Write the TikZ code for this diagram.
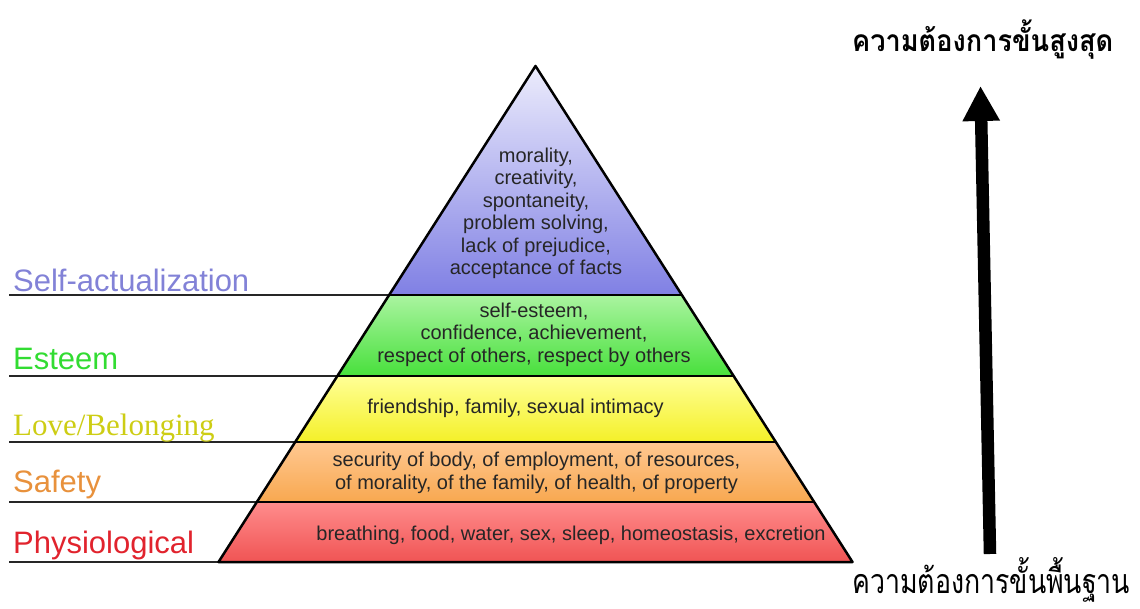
\documentclass[tikz,border=0pt]{standalone}
\usepackage{fontspec}
\usepackage{graphicx}
\setmainfont{Liberation Sans}
\newfontfamily\labsans{Liberation Sans}
\newfontfamily\labserif{Liberation Serif}
\newfontfamily\thaifont[Script=Thai]{Loma}
\usetikzlibrary{arrows.meta}
\definecolor{labBlue}{RGB}{130,130,215}
\definecolor{labGreen}{RGB}{50,220,50}
\definecolor{labYellow}{RGB}{205,205,20}
\definecolor{labOrange}{RGB}{232,145,60}
\definecolor{labRed}{RGB}{225,35,45}
\tikzset{
  lvlname/.style={anchor=base west, inner sep=0pt, font=\labsans\fontsize{31}{31}\selectfont},
  lvltext/.style={align=center, inner sep=0pt, text=black!85, font=\labsans\fontsize{20}{22.5}\selectfont},
  divider/.style={draw=black!85, line width=2pt},
  outline/.style={draw=black, line width=2.5pt, line join=round},
  thai/.style={inner sep=0pt, anchor=base west}
}
\begin{document}
\begin{tikzpicture}[x=1pt,y=-1pt]
\useasboundingbox (0,0) rectangle (1140,609);
% pyramid coordinates
\coordinate (A) at (535.5,66);
\coordinate (L1) at (389.1,295); \coordinate (R1) at (681.9,295);
\coordinate (L2) at (337.4,376); \coordinate (R2) at (733.6,376);
\coordinate (L3) at (295.2,442); \coordinate (R3) at (775.8,442);
\coordinate (L4) at (256.8,502); \coordinate (R4) at (814.2,502);
\coordinate (L5) at (218.5,562); \coordinate (R5) at (852.5,562);
% layer fills
\shade[top color={rgb,255:red,236;green,236;blue,252}, bottom color={rgb,255:red,128;green,128;blue,228}] (A) -- (R1) -- (L1) -- cycle;
\shade[top color={rgb,255:red,170;green,244;blue,160}, bottom color={rgb,255:red,72;green,224;blue,60}] (L1) -- (R1) -- (R2) -- (L2) -- cycle;
\shade[top color={rgb,255:red,255;green,255;blue,150}, bottom color={rgb,255:red,244;green,240;blue,40}] (L2) -- (R2) -- (R3) -- (L3) -- cycle;
\shade[top color={rgb,255:red,255;green,200;blue,145}, bottom color={rgb,255:red,248;green,168;blue,80}] (L3) -- (R3) -- (R4) -- (L4) -- cycle;
\shade[top color={rgb,255:red,255;green,140;blue,140}, bottom color={rgb,255:red,240;green,84;blue,84}] (L4) -- (R4) -- (R5) -- (L5) -- cycle;
% left guide lines start points
\coordinate (G1) at (9,295);
\coordinate (G2) at (9,376);
\coordinate (G3) at (9,442);
\coordinate (G4) at (9,502);
\coordinate (G5) at (9,562);
\draw[divider] (G1) -- (L1);
\draw[divider] (G2) -- (L2);
\draw[divider] (G3) -- (L3);
\draw[divider] (G4) -- (L4);
\draw[divider] (G5) -- (L5);
% outlines
\draw[outline] (L1) -- (R1);
\draw[outline] (L2) -- (R2);
\draw[outline] (L3) -- (R3);
\draw[outline] (L4) -- (R4);
\draw[outline] (A) -- (R5) -- (L5) -- cycle;
% level names
\node[lvlname, text=labBlue] (n1) at (13,292) {Self-actualization};
\node[lvlname, text=labGreen] (n2) at (13,370) {Esteem};
\node[lvlname, text=labYellow, font=\labserif\fontsize{31}{31}\selectfont] (n3) at (13,435) {Love/Belonging};
\node[lvlname, text=labOrange] (n4) at (13,492) {Safety};
\node[lvlname, text=labRed] (n5) at (13,553) {Physiological};
% layer texts
\node[lvltext] (t1) at (536,213.5) {morality,\\creativity,\\spontaneity,\\problem solving,\\lack of prejudice,\\acceptance of facts};
\node[lvltext] (t2) at (534,334.5) {self-esteem,\\confidence, achievement,\\respect of others, respect by others};
\node[lvltext] (t3) at (515.5,408) {friendship, family, sexual intimacy};
\node[lvltext] (t4) at (536.5,473) {security of body, of employment, of resources,\\of morality, of the family, of health, of property};
\node[lvltext] (t5) at (571,535) {breathing, food, water, sex, sleep, homeostasis, excretion};
% arrow
\coordinate (arrBot) at (990,554);
\coordinate (arrTop) at (980.5,86);
\draw[line width=12.5pt, -{Triangle[width=35pt,length=35pt]}] (arrBot) -- (arrTop);
% Thai labels
\node[thai, font=\thaifont\bfseries\fontsize{30}{30}\selectfont] (top) at (852,52) {\resizebox{261pt}{\height}{ความต้องการขั้นสูงสุด}};
\node[thai, font=\thaifont\fontsize{34}{34}\selectfont] (bottom) at (852,593) {\resizebox{278pt}{\height}{ความต้องการขั้นพื้นฐาน}};
\end{tikzpicture}
\end{document}
